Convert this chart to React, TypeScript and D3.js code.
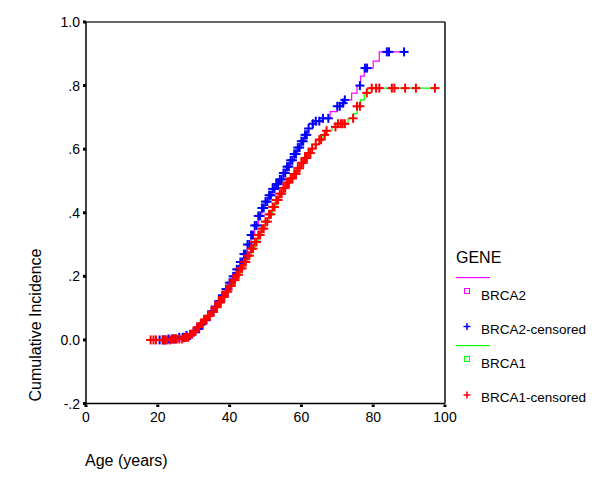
import React from 'react';
import * as d3 from 'd3';

// step points of the cumulative incidence curves: [age, value]
const brca2Steps: [number, number][] = [
  [18, 0], [23, 0.003], [26, 0.008], [28, 0.014], [30, 0.025], [31, 0.035], [32, 0.048],
  [33, 0.062], [34, 0.075], [35, 0.09], [36, 0.105], [37, 0.122], [38, 0.14], [39, 0.16],
  [40, 0.18], [41, 0.2], [42, 0.222], [43, 0.245], [44, 0.27], [45, 0.3], [46, 0.33],
  [47, 0.36], [48, 0.39], [49, 0.415], [50, 0.435], [51, 0.455], [52, 0.475], [53, 0.49],
  [54, 0.505], [55, 0.525], [56, 0.545], [57, 0.565], [58, 0.585], [59, 0.605], [60, 0.625],
  [61, 0.645], [62, 0.665], [63, 0.68], [64, 0.688], [66, 0.697], [68, 0.718], [70, 0.735],
  [71, 0.745], [72, 0.755], [74, 0.776], [75.5, 0.8], [76.5, 0.83], [77.5, 0.855],
  [80, 0.877], [81.7, 0.906], [88.7, 0.906],
];

const brca1Steps: [number, number][] = [
  [18, 0], [24, 0.003], [27, 0.008], [29, 0.018], [30, 0.027], [31, 0.04], [32, 0.052],
  [33, 0.064], [34, 0.076], [35, 0.088], [36, 0.103], [37, 0.118], [38, 0.135], [39, 0.152],
  [40, 0.17], [41, 0.188], [42, 0.205], [43, 0.225], [44, 0.245], [45, 0.265], [46, 0.287],
  [47, 0.308], [48, 0.33], [49, 0.35], [50, 0.372], [51, 0.395], [52, 0.418], [53, 0.44],
  [54, 0.46], [55, 0.478], [56, 0.495], [57, 0.508], [58, 0.522], [59, 0.54], [60, 0.557],
  [61, 0.572], [62, 0.588], [63, 0.602], [64, 0.615], [65, 0.63], [66, 0.645], [67, 0.658],
  [68.5, 0.67], [70, 0.68], [73, 0.697], [74.5, 0.712], [75.5, 0.735], [76.5, 0.755],
  [77.5, 0.777], [78.5, 0.792], [98.4, 0.792],
];

// censored ages
const brca2Censored = [
  20.5, 21.5, 22, 23, 24, 24.5, 25, 26, 27, 27.5, 28, 29, 30, 31, 31.5, 32, 33, 33.5, 34, 35,
  35.5, 36, 37, 37.5, 38, 38.5, 39, 39.5, 40, 40.5, 41, 41.5, 42, 42.5, 43, 43.5, 44, 44.5,
  45, 45.5, 46, 46.5, 47, 47.5, 48, 48.5, 49, 49.5, 50, 50.5, 51, 51.5, 52, 52.5, 53, 53.5,
  54, 54.5, 55, 55.5, 56, 56.5, 57, 57.5, 58, 58.5, 59, 59.5, 60, 60.5, 61, 61.5, 62, 63.2,
  64, 65, 66, 67.5, 70, 70.7, 71.6, 72.1, 76.3, 77.7, 78.3, 83.8, 84.4, 88.6,
];

const brca1Censored = [
  18, 18.8, 19.5, 21.3, 22, 22.6, 23.4, 24, 24.6, 25.3, 26, 26.8, 27.5, 28, 28.5, 29, 29.5,
  30, 30.5, 31, 31.5, 32, 32.5, 33, 33.5, 34, 34.5, 35, 35.5, 36, 36.5, 37, 37.5, 38, 38.5,
  39, 39.5, 40, 40.5, 41, 41.5, 42, 42.5, 43, 43.5, 44, 44.5, 45, 45.5, 46, 46.5, 47, 47.5,
  48, 48.5, 49, 49.5, 50, 50.5, 51, 51.5, 52, 52.5, 53, 53.5, 54, 54.5, 55, 55.5, 56, 56.5,
  57, 57.5, 58, 58.5, 59, 59.5, 60, 60.5, 61, 61.5, 62, 62.5, 63, 64, 65, 65.5, 66.5, 67,
  69.5, 70.2, 71, 71.5, 72.1, 74.4, 75.5, 76.3, 78.2, 79.6, 80.8, 81.7, 85.2, 85.9, 88.9,
  91.9, 97.2,
];

const xTicks = [0, 20, 40, 60, 80, 100];
const yTicks = [-0.2, 0, 0.2, 0.4, 0.6, 0.8, 1.0];
const yTickLabels = ['-.2', '0.0', '.2', '.4', '.6', '.8', '1.0'];

const font = 'Liberation Sans, Arial, Helvetica, sans-serif';

const x = d3.scaleLinear().domain([0, 100]).range([86, 445]);
const y = d3.scaleLinear().domain([-0.2, 1.0]).range([403.5, 22]);

const stepLine = d3
  .line<[number, number]>()
  .x(d => x(d[0]))
  .y(d => y(d[1]))
  .curve(d3.curveStepAfter);

// value of a step curve at a given age
const valueAt = (steps: [number, number][], age: number) => {
  const i = d3.bisector((d: [number, number]) => d[0]).right(steps, age) - 1;
  return steps[Math.max(0, i)][1];
};

const Plus = ({ cx, cy, color, s = 4.5, w = 2 }: { cx: number; cy: number; color: string; s?: number; w?: number }) => (
  <g stroke={color} strokeWidth={w}>
    <line x1={cx - s} x2={cx + s} y1={cy} y2={cy} />
    <line x1={cx} x2={cx} y1={cy - s} y2={cy + s} />
  </g>
);

const App = () => {
  return (
    <svg width={600} height={479} style={{ position: 'absolute', left: 0, top: 0, background: '#fff' }}>
      {/* frame */}
      <line x1={86} x2={445} y1={22} y2={22} stroke="#333" strokeWidth={1.5} />
      <line x1={445} x2={445} y1={22} y2={403.5} stroke="#111" strokeWidth={1.5} />
      <line x1={86} x2={86} y1={22} y2={403.5} stroke="#000" strokeWidth={1.5} />
      <line x1={86} x2={445} y1={403.5} y2={403.5} stroke="#000" strokeWidth={1.5} />

      {/* y ticks */}
      {yTicks.map((t, i) => (
        <g key={'y' + i}>
          <rect x={83} y={y(t) - 1.5} width={3} height={3} fill="#000" />
          <text x={80} y={y(t) + 5} textAnchor="end" fontFamily={font} fontSize={14}>
            {yTickLabels[i]}
          </text>
        </g>
      ))}

      {/* x ticks */}
      {xTicks.map(t => (
        <g key={'x' + t}>
          <rect x={x(t) - 1.5} y={404.5} width={3} height={2.5} fill="#000" />
          <text x={x(t)} y={422} textAnchor="middle" fontFamily={font} fontSize={14}>
            {t}
          </text>
        </g>
      ))}

      {/* axis titles */}
      <text transform="translate(41,325) rotate(-90)" textAnchor="middle" fontFamily={font} fontSize={16}>
        Cumulative Incidence
      </text>
      <text x={85} y={466} fontFamily={font} fontSize={16}>
        Age (years)
      </text>

      {/* curves */}
      <path d={stepLine(brca2Steps) || ''} fill="none" stroke="#ff00ff" strokeWidth={1.2} />
      {brca2Censored.map((a, i) => (
        <Plus key={'b' + i} cx={x(a)} cy={y(valueAt(brca2Steps, a))} color="#0000ff" />
      ))}
      <path d={stepLine(brca1Steps) || ''} fill="none" stroke="#00ff00" strokeWidth={1.2} />
      {brca1Censored.map((a, i) => (
        <Plus key={'r' + i} cx={x(a)} cy={y(valueAt(brca1Steps, a))} color="#ff0000" />
      ))}

      {/* legend */}
      <g fontFamily={font}>
        <text x={456} y={263} fontSize={16}>GENE</text>
        <rect x={456} y={277} width={34} height={1.2} fill="#ff00ff" />
        <rect x={464.5} y={288.5} width={5} height={5} fill="none" stroke="#ff00ff" strokeWidth={1} />
        <text x={481} y={300} fontSize={13.5}>BRCA2</text>
        <Plus cx={467} cy={326.5} color="#0000ff" s={3.5} w={1.5} />
        <text x={481} y={334} fontSize={13.5}>BRCA2-censored</text>
        <rect x={456} y={345} width={34} height={1.2} fill="#00ff00" />
        <rect x={464.5} y={356.5} width={5} height={5} fill="none" stroke="#00ff00" strokeWidth={1} />
        <text x={481} y={368} fontSize={13.5}>BRCA1</text>
        <Plus cx={467} cy={395} color="#ff0000" s={3.5} w={1.5} />
        <text x={481} y={402} fontSize={13.5}>BRCA1-censored</text>
      </g>
    </svg>
  );
};

export default App;
